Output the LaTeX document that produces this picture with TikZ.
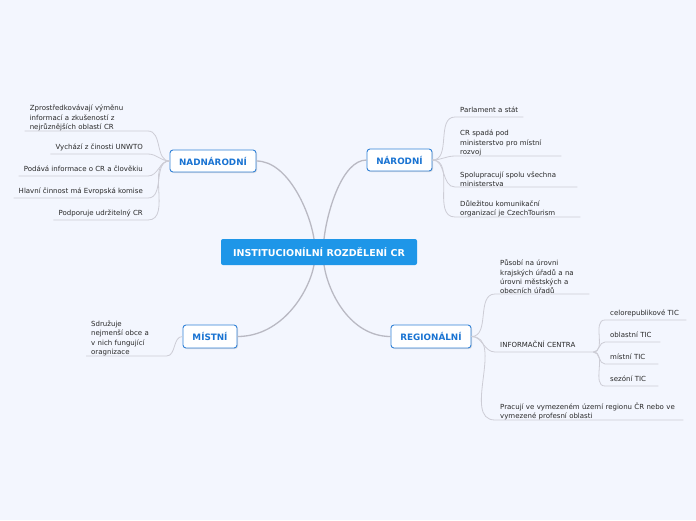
\documentclass[tikz,border=0pt]{standalone}
\usepackage{fontspec}
\setmainfont{DejaVu Sans}
\usetikzlibrary{shadows}
\definecolor{bg}{RGB}{243,246,254}
\definecolor{centerblue}{RGB}{30,150,232}
\definecolor{nodeblue}{RGB}{50,130,215}
\definecolor{textblue}{RGB}{25,115,210}
\definecolor{leaftext}{RGB}{40,40,40}
\definecolor{lineg}{RGB}{205,205,214}
\definecolor{mainline}{RGB}{185,185,195}
\begin{document}
\begin{tikzpicture}[x=1pt,y=-1pt,
 rootbox/.style={fill=centerblue, rounded corners=2pt, text=white, font=\fontsize{9.5}{11}\selectfont\bfseries, minimum width=196pt, minimum height=26pt, inner sep=0pt},
 topicbox/.style={fill=white, draw=nodeblue, line width=0.9pt, rounded corners=3pt, text=textblue, font=\fontsize{8.8}{10}\selectfont\bfseries, minimum height=22pt, inner sep=0pt, drop shadow={shadow xshift=1pt, shadow yshift=-1pt, opacity=0.25}},
 leaf/.style={text=leaftext, font=\fontsize{7}{9.3}\selectfont, align=left, inner xsep=5pt, inner ysep=3pt, text depth=1.6pt},
 leafm/.style={text=leaftext, font=\fontsize{7}{9.3}\selectfont, align=left, inner xsep=5pt, inner ysep=0pt},
 branch/.style={draw=lineg, line width=0.8pt},
 mainbranch/.style={draw=mainline, line width=1.3pt},
]
\fill[bg] (0,0) rectangle (696,520);
\useasboundingbox (0,0) rectangle (696,520);

% main connectors
\coordinate (rt1) at (314,239);
\coordinate (rt2) at (324,239);
\coordinate (rb1) at (314,265);
\coordinate (rb2) at (324,265);

\node[topicbox, minimum width=86pt] (nad) at (213,161) {NADNÁRODNÍ};
\node[topicbox, minimum width=65pt] (nar) at (399.5,160) {NÁRODNÍ};
\node[topicbox, minimum width=54pt, minimum height=23pt] (mis) at (210,336.5) {MÍSTNÍ};
\node[topicbox, minimum width=80pt, minimum height=23pt] (reg) at (431,336.5) {REGIONÁLNÍ};

\draw[mainbranch] (nad.east) .. controls (288,161) and (310,212) .. (rt1);
\draw[mainbranch] (nar.west) .. controls (342,160) and (327,212) .. (rt2);
\draw[mainbranch] (mis.east) .. controls (282,336.5) and (309,292) .. (rb1);
\draw[mainbranch] (reg.west) .. controls (350,336.5) and (328,292) .. (rb2);

\node[rootbox] (root) at (319,252) {INSTITUCIONÍLNÍ ROZDĚLENÍ CR};

% NADNÁRODNÍ leaves
\node[leafm, anchor=south east, text width=113pt] (L1) at (148,131) {Zprostředkovávají výměnu\\informací a zkušeností z\\nejrůznějších oblastí CR};
\node[leaf, anchor=south east] (L2) at (148,154) {Vychází z činosti UNWTO};
\node[leaf, anchor=south east] (L3) at (148,176) {Podává informace o CR a člověkiu};
\node[leaf, anchor=south east] (L4) at (148,198) {Hlavní činnost má Evropská komise};
\node[leaf, anchor=south east] (L5) at (148,220) {Podporuje udržitelný CR};
\foreach \n in {L1,L2,L3,L4,L5}
  \draw[branch] (nad.west) to[out=180,in=0] (\n.south east) -- (\n.south west);

% NÁRODNÍ leaves
\node[leaf, anchor=south west, text width=58pt] (R1) at (455,117) {Parlament a stát};
\node[leafm, anchor=south west, text width=96pt] (R2) at (455,156) {CR spadá pod\\ministerstvo pro místní\\rozvoj};
\node[leafm, anchor=south west, text width=112pt] (R3) at (455,187) {Spolupracují spolu všechna\\ministerstva};
\node[leafm, anchor=south west, text width=115pt] (R4) at (455,217) {Důležitou komunikační\\organizací je CzechTourism};
\foreach \n in {R1,R2,R3,R4}
  \draw[branch] (nar.east) to[out=0,in=180] (\n.south west) -- (\n.south east);

% REGIONÁLNÍ leaves
\node[leafm, anchor=south west, text width=84pt] (G1) at (495,294) {Působí na úrovni\\krajských úřadů a na\\úrovni městských a\\obecních úřadů};
\node[leaf, anchor=south west, text width=88pt] (G2) at (495,352) {INFORMAČNÍ CENTRA};
\node[leafm, anchor=south west, text width=178pt] (G3) at (495,420) {Pracují ve vymezeném území regionu ČR nebo ve\\vymezené profesní oblasti};
\foreach \n in {G1,G2,G3}
  \draw[branch] (reg.east) to[out=0,in=180] (\n.south west) -- (\n.south east);

% INFORMAČNÍ CENTRA leaves
\node[leaf, anchor=south west, text width=71pt] (S1) at (605,320) {celorepublikové TIC};
\node[leaf, anchor=south west, text width=45pt] (S2) at (605,342) {oblastní TIC};
\node[leaf, anchor=south west, text width=43pt] (S3) at (605,364) {místní TIC};
\node[leaf, anchor=south west, text width=43pt] (S4) at (605,386) {sezóní TIC};
\foreach \n in {S1,S2,S3,S4}
  \draw[branch] (G2.south east) to[out=0,in=180] (\n.south west) -- (\n.south east);

% MÍSTNÍ leaf
\node[leafm, anchor=south west, text width=70pt] (M1) at (86,356) {Sdružuje\\nejmenší obce a\\v nich fungující\\oragnizace};
\draw[branch] (mis.west) to[out=180,in=0] (M1.south east) -- (M1.south west);
\end{tikzpicture}
\end{document}
